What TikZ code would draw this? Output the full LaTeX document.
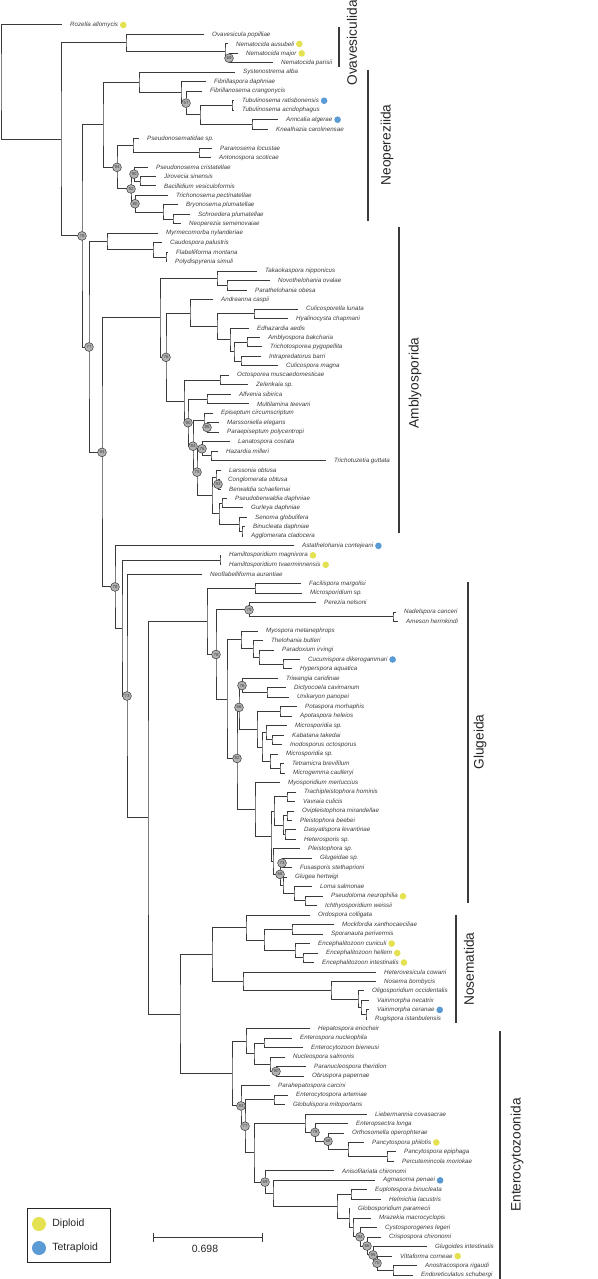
\documentclass[tikz,border=0pt]{standalone}
\usepackage{fontspec}
\setmainfont{Liberation Sans}
\usepackage{tikz}
\usetikzlibrary{positioning,calc}
\definecolor{branchgray}{HTML}{3A3A3A}
\definecolor{labelgray}{HTML}{3C3C3C}
\definecolor{bootgray}{HTML}{B2B2B2}
\definecolor{diploidyellow}{HTML}{E4E250}
\definecolor{tetraploidblue}{HTML}{5B9BD5}

% leaf: index, tip x, name
\newcommand{\taxon}[3]{%
  \coordinate (t#1) at (#2,{25+(#1-1)*9.47});
  \node[taxon] (lab#1) at (t#1) {#3};}
% inner node: name, x, upper child, lower child
\newcommand{\clade}[4]{%
  \coordinate (#1m) at ($(#3)!0.5!(#4)$);
  \coordinate (#1) at (#2,0 |- #1m);
  \draw[branch] (#3) -| (#1) |- (#4);}
% support value on a node
\newcommand{\bootval}[2]{\node[boot] (bs-#1) at (#1) {#2};}

\begin{document}
\begin{tikzpicture}[x=1pt, y=-1pt,
  branch/.style={draw=branchgray, line width=1pt},
  taxon/.style={anchor=west, xshift=8pt, inner sep=0pt, text=labelgray, font=\fontsize{6.2}{7}\selectfont\itshape},
  boot/.style={circle, draw=branchgray, fill=bootgray, line width=0.5pt, minimum size=8.8pt, inner sep=0pt, text=branchgray, font=\fontsize{4.4}{4.4}\selectfont},
  diploid/.style={circle, fill=diploidyellow, minimum size=6.6pt, inner sep=0pt},
  tetraploid/.style={circle, fill=tetraploidblue, minimum size=6.6pt, inner sep=0pt},
  cladebar/.style={draw=branchgray, line width=1.5pt},
  cladename/.style={rotate=90, inner sep=0pt, text=black!85, font=\fontsize{13.7}{14}\selectfont},
  legendtext/.style={anchor=west, inner sep=0pt, text=black!85, font=\fontsize{10.5}{12}\selectfont}]
\useasboundingbox (0,0) rectangle (597,1279);

%help grid
%\draw[help lines] (0,0) grid[step=50] (597,1279);

%%% taxa
\taxon{1}{62}{Rozella allomycis}
\taxon{2}{204}{Ovavesicula popilliae}
\taxon{3}{228}{Nematocida ausubeli}
\taxon{4}{238}{Nematocida major}
\taxon{5}{273}{Nematocida parisii}
\taxon{6}{235}{Systenostrema alba}
\taxon{7}{206}{Fibrillaspora daphniae}
\taxon{8}{202}{Fibrillanosema crangonycis}
\taxon{9}{234}{Tubulinosema ratisbonensis}
\taxon{10}{234}{Tubulinosema acridophagus}
\taxon{11}{278}{Anncalia algerae}
\taxon{12}{268}{Knealhazia carolinensae}
\taxon{13}{139}{Pseudonosematidae sp.}
\taxon{14}{212}{Paranosema locustae}
\taxon{15}{211}{Antonospora scoticae}
\taxon{16}{148}{Pseudonosema cristatellae}
\taxon{17}{156}{Jirovecia sinensis}
\taxon{18}{156}{Bacillidium vesiculoformis}
\taxon{19}{168}{Trichonosema pectinatellae}
\taxon{20}{178}{Bryonosema plumatellae}
\taxon{21}{190}{Schroedera plumatellae}
\taxon{22}{181}{Neoperezia semenovaiae}
\taxon{23}{158}{Myrmecomorba nylanderiae}
\taxon{24}{162}{Caudospora palustris}
\taxon{25}{168}{Flabelliforma montana}
\taxon{26}{167}{Polydispyrenia simuli}
\taxon{27}{257}{Takaokaspora nipponicus}
\taxon{28}{270}{Novothelohania ovalae}
\taxon{29}{247}{Parathelohania obesa}
\taxon{30}{213}{Andreanna caspii}
\taxon{31}{298}{Culicosporella lunata}
\taxon{32}{288}{Hyalinocysta chapmani}
\taxon{33}{249}{Edhazardia aedis}
\taxon{34}{260}{Amblyospora bakcharia}
\taxon{35}{262}{Trichotosporea pygopellita}
\taxon{36}{261}{Intrapredatorus barri}
\taxon{37}{278}{Culicospora magna}
\taxon{38}{229}{Octosporea muscaedomesticae}
\taxon{39}{248}{Zelenkaia sp.}
\taxon{40}{231}{Alfvenia sibirica}
\taxon{41}{249}{Multilamina teevani}
\taxon{42}{213}{Episeptum circumscriptum}
\taxon{43}{219}{Marssoniella elegans}
\taxon{44}{219}{Paraepiseptum polycentropi}
\taxon{45}{230}{Lanatospora costata}
\taxon{46}{218}{Hazardia milleri}
\taxon{47}{326}{Trichotuzetia guttata}
\taxon{48}{221}{Larssonia obtusa}
\taxon{49}{220}{Conglomerata obtusa}
\taxon{50}{221}{Berwaldia schaefernai}
\taxon{51}{227}{Pseudoberwaldia daphniae}
\taxon{52}{243}{Gurleya daphniae}
\taxon{53}{247}{Senoma globulifera}
\taxon{54}{245}{Binucleata daphniae}
\taxon{55}{243}{Agglomerata cladocera}
\taxon{56}{294}{Astathelohania contejeani}
\taxon{57}{221}{Hamiltosporidium magnivora}
\taxon{58}{221}{Hamiltosporidium tvaerminnensis}
\taxon{59}{202}{Neoflabelliforma aurantiae}
\taxon{60}{301}{Facilispora margolisi}
\taxon{61}{302}{Microsporidium sp.}
\taxon{62}{316}{Perezia nelsoni}
\taxon{63}{396}{Nadelspora canceri}
\taxon{64}{398}{Ameson herrnkindi}
\taxon{65}{258}{Myospora metanephrops}
\taxon{66}{263}{Thelohania butleri}
\taxon{67}{274}{Paradoxium irvingi}
\taxon{68}{300}{Cucumispora dikerogammari}
\taxon{69}{292}{Hyperspora aquatica}
\taxon{70}{278}{Triwangia caridinae}
\taxon{71}{286}{Dictyocoela cavimanum}
\taxon{72}{289}{Unikaryon panopei}
\taxon{73}{297}{Potaspora morhaphis}
\taxon{74}{292}{Apotaspora heleios}
\taxon{75}{287}{Microsporidia sp.}
\taxon{76}{284}{Kabatana takedai}
\taxon{77}{282}{Inodosporus octosporus}
\taxon{78}{278}{Microsporidia sp.}
\taxon{79}{284}{Tetramicra brevifilum}
\taxon{80}{285}{Microgemma caulleryi}
\taxon{81}{280}{Myosporidium merluccius}
\taxon{82}{296}{Trachipleistophora hominis}
\taxon{83}{295}{Vavraia culicis}
\taxon{84}{294}{Ovipleistophora mirandellae}
\taxon{85}{292}{Pleistophora beebei}
\taxon{86}{296}{Dasyatispora levantinae}
\taxon{87}{296}{Heterosporis sp.}
\taxon{88}{300}{Pleistophora sp.}
\taxon{89}{312}{Glugeidae sp.}
\taxon{90}{292}{Fusasporis stethaprioni}
\taxon{91}{287}{Glugea hertwigi}
\taxon{92}{312}{Loma salmonae}
\taxon{93}{323}{Pseudoloma neurophilia}
\taxon{94}{317}{Ichthyosporidium weissii}
\taxon{95}{310}{Ordospora colligata}
\taxon{96}{334}{Mockfordia xanthocaeciliae}
\taxon{97}{323}{Sporanauta perivermis}
\taxon{98}{310}{Encephalitozoon cuniculi}
\taxon{99}{318}{Encephalitozoon hellem}
\taxon{100}{314}{Encephalitozoon intestinalis}
\taxon{101}{376}{Heterovesicula cowani}
\taxon{102}{376}{Nosema bombycis}
\taxon{103}{364}{Oligosporidium occidentalis}
\taxon{104}{369}{Vairimorpha necatrix}
\taxon{105}{369}{Vairimorpha ceranae}
\taxon{106}{367}{Rugispora istanbulensis}
\taxon{107}{310}{Hepatospora eriocheir}
\taxon{108}{292}{Enterospora nucleophila}
\taxon{109}{303}{Enterocytozoon bieneusi}
\taxon{110}{285}{Nucleospora salmonis}
\taxon{111}{306}{Paranucleospora theridion}
\taxon{112}{304}{Obruspora papernae}
\taxon{113}{270}{Parahepatospora carcini}
\taxon{114}{288}{Enterocytospora artemiae}
\taxon{115}{285}{Globulispora mitoportans}
\taxon{116}{367}{Liebermannia covasacrae}
\taxon{117}{348}{Enteropsectra longa}
\taxon{118}{344}{Orthosomella operophterae}
\taxon{119}{364}{Pancytospora philotis}
\taxon{120}{396}{Pancytospora epiphaga}
\taxon{121}{394}{Percutemincola moriokae}
\taxon{122}{334}{Anisofilariata chironomi}
\taxon{123}{375}{Agmasoma penaei}
\taxon{124}{367}{Euplotespora binucleata}
\taxon{125}{381}{Helmichia lacustris}
\taxon{126}{350}{Globosporidium paramecii}
\taxon{127}{371}{Mrazekia macrocyclopis}
\taxon{128}{377}{Cystosporogenes legeri}
\taxon{129}{381}{Crispospora chironomi}
\taxon{130}{427}{Glugoides intestinalis}
\taxon{131}{392}{Vittaforma corneae}
\taxon{132}{417}{Anostracospora rigaudi}
\taxon{133}{413}{Endoreticulatus schubergi}

%%% ploidy dots
\foreach \n in {1,3,4,57,58,93,98,99,100,119,131}
  \node[diploid, right=1.5pt of lab\n] (dot\n) {};
\foreach \n in {9,11,56,68,105,123}
  \node[tetraploid, right=1.5pt of lab\n] (dot\n) {};

%%% OVAVESICULIDA
\clade{nemb}{229}{t4}{t5}
\clade{nem}{225}{t3}{nemb}
\clade{ova}{126}{t2}{nem}

%%% NEOPEREZIIDA
\clade{tub}{232}{t9}{t10}
\clade{ann}{252}{t11}{t12}
\clade{tubann}{200}{tub}{ann}
\clade{fibb}{186}{t8}{tubann}
\clade{fib}{181}{t7}{fibb}
\clade{sys}{139}{t6}{fib}
\clade{para}{199}{t14}{t15}
\clade{pseud}{133}{t13}{para}
\clade{jir}{140}{t17}{t18}
\clade{jirb}{134}{t16}{jir}
\clade{schr}{173}{t21}{t22}
\clade{bryo}{163}{t20}{schr}
\clade{tric}{135}{t19}{bryo}
\clade{pcris}{131}{jirb}{tric}
\clade{neob}{117}{pseud}{pcris}
\clade{neo}{103}{sys}{neob}

%%% AMBLYOSPORIDA
\clade{flab}{166}{t25}{t26}
\clade{caud}{153}{t24}{flab}
\clade{myr}{107}{t23}{caud}
\clade{novo}{227}{t28}{t29}
\clade{taka}{217}{t27}{novo}
\clade{culi}{254}{t31}{t32}
\clade{amb}{247}{t34}{t35}
\clade{intr}{241}{t36}{t37}
\clade{ambz}{234}{amb}{intr}
\clade{edh}{230}{t33}{ambz}
\clade{culx}{217}{culi}{edh}
\clade{andr}{190}{t30}{culx}
\clade{octo}{220}{t38}{t39}
\clade{alf}{207}{t40}{t41}
\clade{mars}{207}{t43}{t44}
\clade{epi}{204}{t42}{mars}
\clade{haz}{211}{t46}{t47}
\clade{lana}{202}{t45}{haz}
\clade{cong}{218}{t49}{t50}
\clade{lars}{216}{t48}{cong}
\clade{gur}{222}{t51}{t52}
\clade{bin}{242}{t54}{t55}
\clade{sen}{239}{t53}{bin}
\clade{psb}{219}{gur}{sen}
\clade{larsg}{212}{lars}{psb}
\clade{lanb}{197}{lana}{larsg}
\clade{epib}{193}{epi}{lanb}
\clade{alfb}{188}{alf}{epib}
\clade{octr}{184}{octo}{alfb}
\clade{ambl}{166}{andr}{octr}
\clade{tak}{160}{taka}{ambl}
\clade{ham}{220}{t57}{t58}

%%% GLUGEIDA
\clade{facil}{255}{t60}{t61}
\clade{nad}{393}{t63}{t64}
\clade{perz}{249}{t62}{nad}
\clade{cuc}{283}{t68}{t69}
\clade{parad}{259}{t67}{cuc}
\clade{thel}{253}{t66}{parad}
\clade{myo}{241}{t65}{thel}
\clade{dic}{267}{t71}{t72}
\clade{triw}{242}{t70}{dic}
\clade{pot}{280}{t73}{t74}
\clade{kab}{272}{t76}{t77}
\clade{ksa}{266}{t75}{kab}
\clade{tet}{280}{t79}{t80}
\clade{ksb}{270}{t78}{tet}
\clade{kk}{262}{ksa}{ksb}
\clade{potg}{257}{pot}{kk}
\clade{triwb}{239}{triw}{potg}
\clade{trach}{287}{t82}{t83}
\clade{ovi}{287}{t84}{t85}
\clade{das}{285}{t86}{t87}
\clade{ovid}{283}{ovi}{das}
\clade{pla}{274}{trach}{ovid}
\clade{glgd}{282}{t89}{t90}
\clade{ich}{305}{t93}{t94}
\clade{loma}{294}{t92}{ich}
\clade{glgh}{283}{t91}{loma}
\clade{glgb}{280}{glgd}{glgh}
\clade{plb}{273}{t88}{glgb}
\clade{pl}{271}{pla}{plb}
\clade{myos}{255}{t81}{pl}
\clade{triwc}{237}{triwb}{myos}
\clade{myob}{227}{myo}{triwc}
\clade{perzb}{216}{perz}{myob}
\clade{glu}{207}{facil}{perzb}

%%% NOSEMATIDA
\clade{mock}{292}{t96}{t97}
\clade{hel}{303}{t99}{t100}
\clade{enc}{295}{t98}{hel}
\clade{mockenc}{264}{mock}{enc}
\clade{ordo}{246}{t95}{mockenc}
\clade{vcr}{366}{t105}{t106}
\clade{vn}{361}{t104}{vcr}
\clade{olig}{358}{t103}{vn}
\clade{nos}{331}{t102}{olig}
\clade{het}{243}{t101}{nos}
\clade{nosem}{212}{ordo}{het}

%%% ENTEROCYTOZOONIDA
\clade{ent}{264}{t108}{t109}
\clade{obr}{276}{t111}{t112}
\clade{nuc}{270}{t110}{obr}
\clade{hepb}{254}{ent}{nuc}
\clade{hep}{246}{t107}{hepb}
\clade{entglob}{274}{t114}{t115}
\clade{epper}{387}{t120}{t121}
\clade{panc}{348}{t119}{epper}
\clade{orth}{328}{t118}{panc}
\clade{entp}{315}{t117}{orth}
\clade{lieb}{305}{t116}{entp}
\clade{anos}{393}{t132}{t133}
\clade{vitt}{377}{t131}{anos}
\clade{glgo}{373}{t130}{vitt}
\clade{cris}{367}{t129}{glgo}
\clade{cyst}{360}{t128}{cris}
\clade{mraz}{353}{t127}{cyst}
\clade{glob}{349}{t126}{mraz}
\clade{eupl}{351}{t124}{t125}
\clade{eupg}{337}{eupl}{glob}
\clade{agm}{273}{t123}{eupg}
\clade{anis}{265}{t122}{agm}
\clade{liebg}{254}{lieb}{anis}
\clade{entb}{245}{entglob}{liebg}
\clade{entc}{241}{t113}{entb}
\clade{entr}{232}{hep}{entc}
\clade{nosent}{180}{nosem}{entr}

%%% backbone
\clade{glunos}{148}{glu}{nosent}
\clade{neof}{127}{t59}{glunos}
\clade{hamg}{122}{ham}{neof}
\clade{asta}{115}{t56}{hamg}
\clade{amblb}{102}{tak}{asta}
\clade{amblc}{89}{myr}{amblb}
\clade{neoc}{82}{neo}{amblc}
\clade{mic}{61}{ova}{neoc}
\clade{root}{1}{t1}{mic}

%%% support values
\bootval{nemb}{69} \bootval{fibb}{57} \bootval{neob}{94} \bootval{jirb}{90}
\bootval{pcris}{92} \bootval{tric}{80} \bootval{neoc}{78} \bootval{amblc}{77}
\bootval{ambl}{76} \bootval{alfb}{90} \bootval{mars}{85} \bootval{epib}{84}
\bootval{lana}{76} \bootval{lanb}{75} \bootval{cong}{82} \bootval{amblb}{94}
\bootval{asta}{78} \bootval{neof}{73} \bootval{perz}{79} \bootval{perzb}{78}
\bootval{triw}{76} \bootval{triwb}{66} \bootval{triwc}{82} \bootval{glgd}{73}
\bootval{glgb}{68} \bootval{obr}{90} \bootval{entc}{83} \bootval{entb}{77}
\bootval{entp}{78} \bootval{orth}{68} \bootval{anis}{69} \bootval{cyst}{94}
\bootval{cris}{66} \bootval{glgo}{95} \bootval{vitt}{70}

%%% clade bars
\coordinate (ova-top) at (339,27);   \coordinate (ova-bot) at (339,67);
\coordinate (neo-top) at (368,70);   \coordinate (neo-bot) at (368,221);
\coordinate (amb-top) at (399,227);  \coordinate (amb-bot) at (399,533);
\coordinate (glu-top) at (468,582);  \coordinate (glu-bot) at (468,903);
\coordinate (nos-top) at (456,915);  \coordinate (nos-bot) at (456,1023);
\coordinate (ent-top) at (500,1031); \coordinate (ent-bot) at (500,1279);
\draw[cladebar] (ova-top) -- (ova-bot);
\draw[cladebar] (neo-top) -- (neo-bot);
\draw[cladebar] (amb-top) -- (amb-bot);
\draw[cladebar] (glu-top) -- (glu-bot);
\draw[cladebar] (nos-top) -- (nos-bot);
\draw[cladebar] (ent-top) -- (ent-bot);
\node[cladename] (ova-name) at (352,43) {Ovavesiculida};
\node[cladename] (neo-name) at (387,145) {Neopereziida};
\node[cladename] (amb-name) at (415,383) {Amblyosporida};
\node[cladename] (glu-name) at (480,742) {Glugeida};
\node[cladename] (nos-name) at (469,969) {Nosematida};
\node[cladename] (ent-name) at (517,1155) {Enterocytozoonida};

%%% legend
\node[rectangle, draw=black!85, line width=0.8pt, minimum width=83pt, minimum height=54pt, inner sep=0pt, anchor=north west] (legend) at (27,1208) {};
\node[diploid, minimum size=14pt] (leg-dip) at (39,1224) {};
\node[legendtext, right=6pt of leg-dip] (leg-dip-txt) {Diploid};
\node[tetraploid, minimum size=14pt] (leg-tet) at (39,1248) {};
\node[legendtext, right=6pt of leg-tet] (leg-tet-txt) {Tetraploid};

%%% scale bar
\coordinate (sb-l) at (153,1237);
\coordinate (sb-r) at (262,1237);
\draw[branch] (sb-l) -- (sb-r);
\draw[branch] ([yshift=4.5pt]sb-l) -- ([yshift=-4.5pt]sb-l);
\draw[branch] ([yshift=4.5pt]sb-r) -- ([yshift=-4.5pt]sb-r);
\node[legendtext, anchor=center] (sb-lab) at (205,1249) {0.698};

\end{tikzpicture}
\end{document}
